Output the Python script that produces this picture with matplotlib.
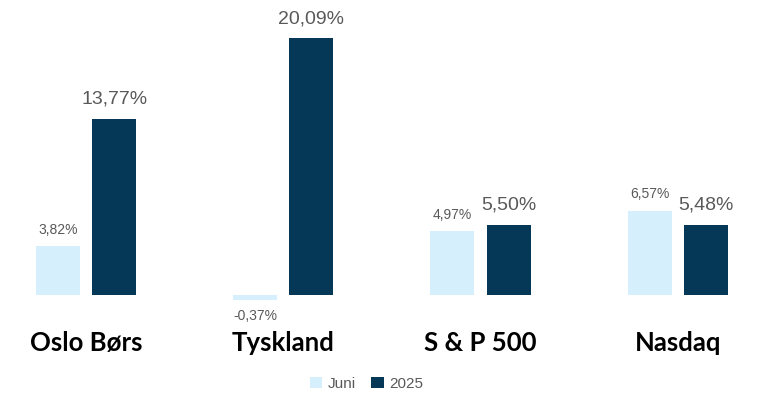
import matplotlib
matplotlib.use("Agg")
import matplotlib.pyplot as plt
import numpy as np

# ===== Data =====
categories = ["Oslo Børs", "Tyskland", "S & P 500", "Nasdaq"]
juni = [3.82, -0.37, 4.97, 6.57]
aar_2025 = [13.77, 20.09, 5.50, 5.48]
series_names = ["Juni", "2025"]

light = "#D5F0FC"
dark = "#053857"
grey = "#595959"

fig = plt.figure(figsize=(7.67, 3.99), dpi=100)
ax = fig.add_axes([0, 0, 1, 1])

x = np.arange(len(categories))
w = 0.223
off = 0.143

b1 = ax.bar(x - off, juni, w, color=light, label=series_names[0])
b2 = ax.bar(x + off, aar_2025, w, color=dark, label=series_names[1])

def fmt(v):
    return f"{v:.2f}".replace(".", ",") + "%"

# ===== Value labels =====
for xi, v in zip(x, juni):
    if v >= 0:
        ax.text(xi - off, v + 0.75, fmt(v), ha="center", va="bottom",
                fontsize=10, color=grey, family="Liberation Sans")
    else:
        ax.text(xi - off, v - 0.75, fmt(v), ha="center", va="top",
                fontsize=10, color=grey, family="Liberation Sans")

for xi, v in zip(x, aar_2025):
    ax.text(xi + off, v + 0.85, fmt(v), ha="center", va="bottom",
            fontsize=14, color=grey, family="Liberation Sans")

# ===== Category labels =====
for xi, c in zip(x, categories):
    ax.text(xi, -3.75, c, ha="center", va="center", fontsize=18.5,
            fontweight="bold", color="black", family="Lato")

ax.set_xlim(-0.436, 3.452)
ax.set_ylim(-8.125, 23.05)
ax.axis("off")

fig.legend(loc="center", bbox_to_anchor=(0.478, 0.038), ncol=2, frameon=False,
           handlelength=0.8, handleheight=0.8, handletextpad=0.4, columnspacing=1.0,
           prop={"family": "Liberation Sans", "size": 11}, labelcolor=grey)

fig.savefig("out.png", dpi=100, facecolor="white")
plt.close(fig)
